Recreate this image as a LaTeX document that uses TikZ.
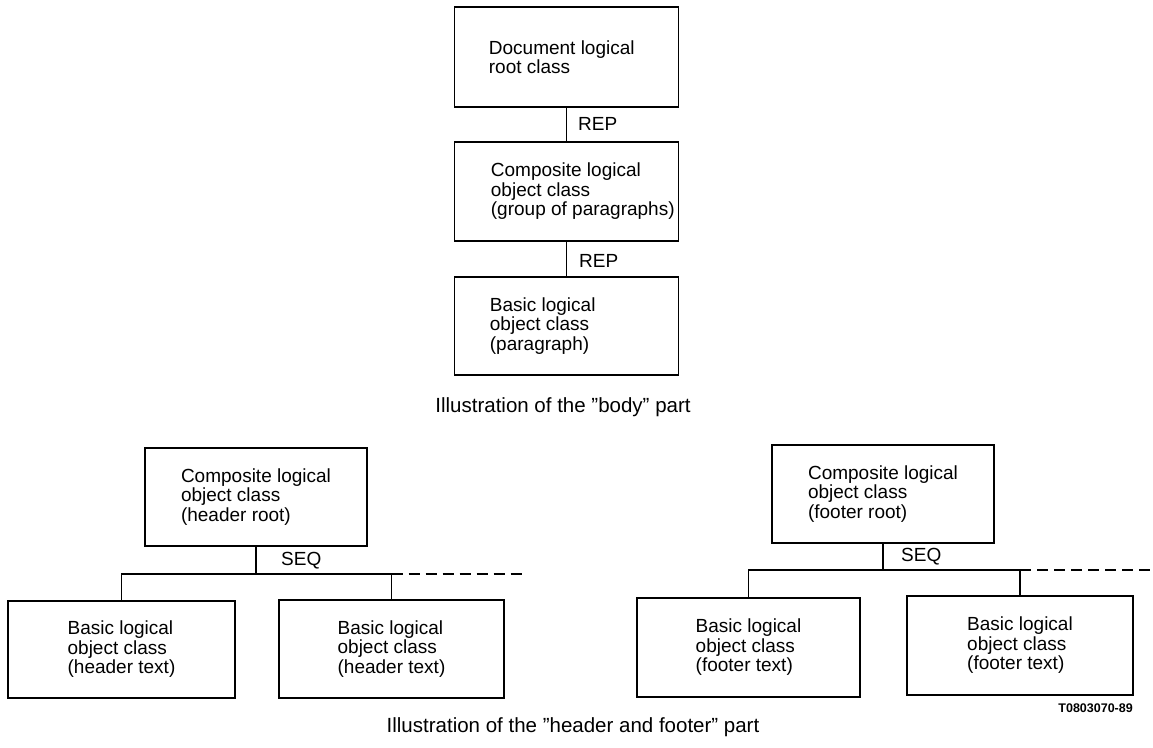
\documentclass[tikz,border=0pt]{standalone}
\usepackage{fontspec}
\setmainfont{Liberation Sans}
\begin{document}
\begin{tikzpicture}[x=1pt,y=-1pt,
  box/.style={draw, line width=1.6pt, inner sep=0pt},
  txt/.style={font=\fontsize{19}{19.5}\selectfont, align=left, inner sep=0pt},
  lbl/.style={font=\fontsize{19}{19.5}\selectfont, inner sep=0pt, anchor=west},
  conn/.style={line width=1.4pt},
  dashconn/.style={line width=1.4pt, dash pattern=on 11pt off 6pt},
  captxt/.style={font=\fontsize{20.5}{22}\selectfont, inner sep=0pt}]
\useasboundingbox (0,0) rectangle (1153,747);

% body part
\node[box, minimum width=224, minimum height=100] (b1) at (566.5,57) {};
\node[txt, anchor=west] (t1) at ([xshift=35]b1.west) {Document logical\\root class};
\node[box, minimum width=224, minimum height=99] (b2) at (566.5,191.5) {};
\node[txt, anchor=west] (t2) at ([xshift=37]b2.west) {Composite logical\\object class\\(group of paragraphs)};
\node[box, minimum width=224, minimum height=98] (b3) at (566.5,326) {};
\node[txt, anchor=west] (t3) at ([xshift=36]b3.west) {Basic logical\\object class\\(paragraph)};
\draw[conn] (b1) -- (b2);
\draw[conn] (b2) -- (b3);
\node[lbl] (r1) at (578,124) {REP};
\node[lbl] (r2) at (579,261) {REP};
\node[captxt] (c1) at (563,407) {Illustration of the "body" part};

% header part
\node[box, txt, minimum width=222, minimum height=98] (hr0) at (256,497) {Composite logical\\object class\\(header root)};
\node[box, txt, minimum width=227, minimum height=97] (hl) at (121.5,649.5) {Basic logical\\object class\\(header text)};
\node[box, txt, minimum width=225, minimum height=98] (hr) at (391.5,649) {Basic logical\\object class\\(header text)};
\coordinate (hj) at (256,574);
\coordinate (hd) at (527,574);
\draw[conn] (hr0) -- (hj);
\draw[conn] (hl.north) |- (hj) -| (hr.north);
\draw[dashconn] (hr.north |- hj) -- (hd);
\node[lbl] (hs) at (281,561) {SEQ};

% footer part
\node[box, txt, minimum width=222, minimum height=98] (fr0) at (883,494) {Composite logical\\object class\\(footer root)};
\node[box, txt, minimum width=223, minimum height=99] (fl) at (748.5,647.5) {Basic logical\\object class\\(footer text)};
\node[box, txt, minimum width=226, minimum height=99] (fr) at (1020,645.5) {Basic logical\\object class\\(footer text)};
\coordinate (fj) at (883,570);
\coordinate (fd) at (1153,570);
\draw[conn] (fr0) -- (fj);
\draw[conn] (fl.north) |- (fj) -| (fr.north);
\draw[dashconn] (fr.north |- fj) -- (fd);
\node[lbl] (fs) at (901,557) {SEQ};

\node[font=\bfseries\fontsize{12.5}{13}\selectfont, anchor=east, inner sep=0pt] (code) at (1133,708) {T0803070-89};
\node[captxt] (c2) at (573,727) {Illustration of the "header and footer" part};
\end{tikzpicture}
\end{document}
